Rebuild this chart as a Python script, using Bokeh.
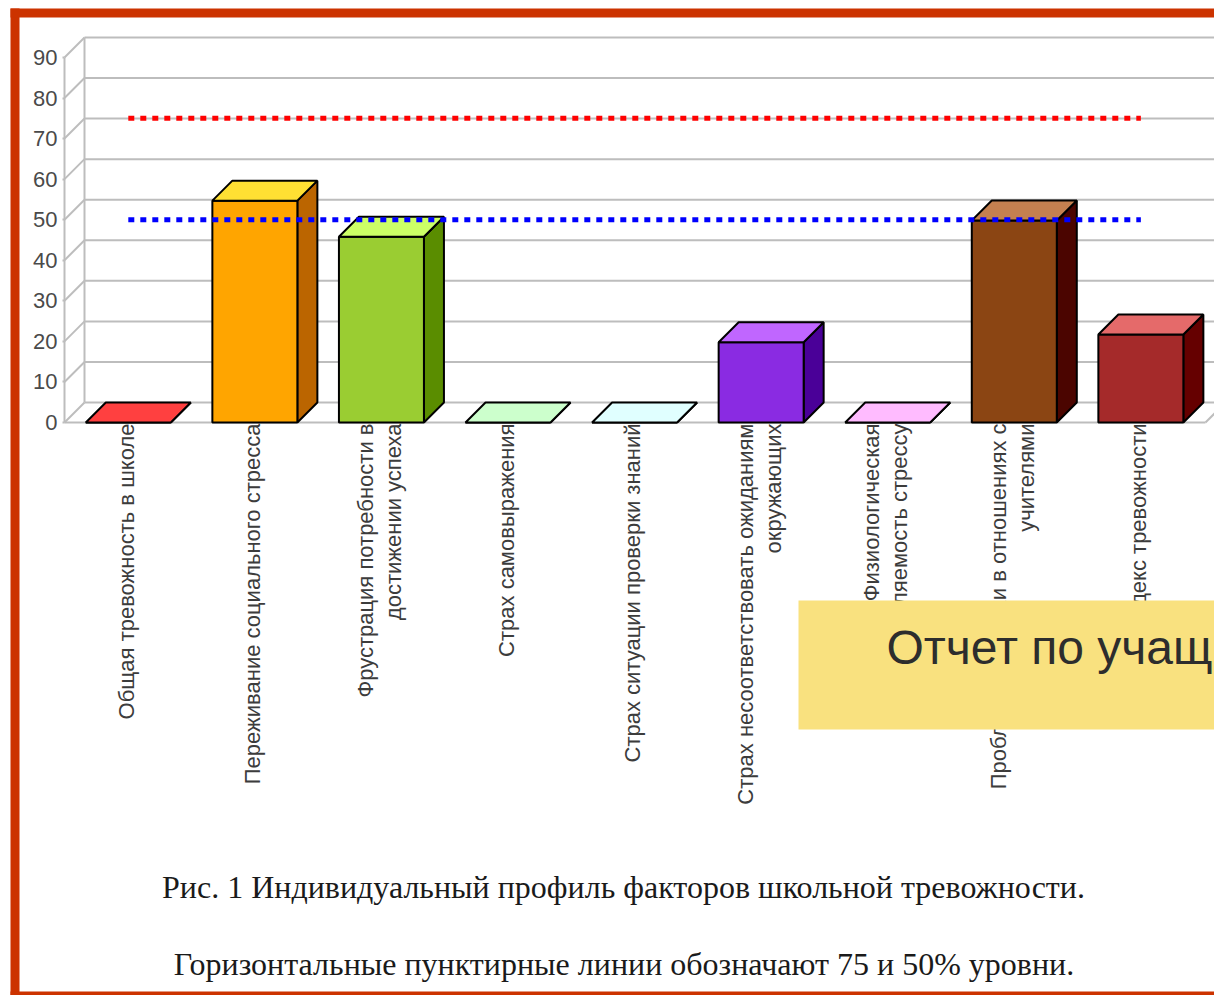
from math import pi
from bokeh.plotting import figure
from bokeh.models import Range1d, FixedTicker, BoxAnnotation, ColumnDataSource
from bokeh.core.properties import value
from bokeh.embed import file_html
from bokeh.resources import INLINE

# ---- data ----
categories = [
    "Общая тревожность в школе",
    "Переживание социального стресса",
    "Фрустрация потребности в\nдостижении успеха",
    "Страх самовыражения",
    "Страх ситуации проверки знаний",
    "Страх несоответствовать ожиданиям\nокружающих",
    "Физиологическая\nсопротивляемость стрессу",
    "Проблемы и страхи в отношениях с\nучителями",
    "Индекс тревожности",
]
values = [0, 54.7, 45.8, 0, 0, 19.8, 0, 49.8, 21.7]
level_75 = 75
level_50 = 50
y_ticks = [0, 10, 20, 30, 40, 50, 60, 70, 80, 90]
caption_1 = "Рис. 1 Индивидуальный профиль факторов школьной тревожности."
caption_2 = "Горизонтальные пунктирные линии обозначают 75 и 50% уровни."
banner_text = "Отчет по учащимся"

front_colors = ["#FF0000", "#FFA500", "#9ACD32", "#98FB98", "#E0FFFF", "#8A2BE2", "#FF99FF", "#8B4513", "#A52A2A"]
top_colors = ["#FF4040", "#FFE033", "#CCFF66", "#CCFFCC", "#E0FFFF", "#C066FF", "#FFBBFF", "#C48050", "#E56A6A"]
side_colors = ["#BF0000", "#BB6500", "#5A8D00", "#58BB58", "#A0BFBF", "#4A0098", "#BF59BF", "#4B0500", "#650000"]

# ---- layout (page pixels) ----
W, H = 1214, 995
AXIS_PX = 64
PX_PER_CAT = 126.57
CAT0_PX = 127.8
ZERO_PX = 422.0
PX_PER_VAL = 4.056
BAR_W = 85 / PX_PER_CAT
DX = 20 / PX_PER_CAT
DY = 20 / PX_PER_VAL


def xd(px):
    return (px - CAT0_PX) / PX_PER_CAT


def yd(px):
    return (ZERO_PX - px) / PX_PER_VAL


p = figure(
    width=W, height=H, output_backend="svg", toolbar_location=None,
    x_range=Range1d(xd(0), xd(W)),
    y_range=Range1d(yd(H), yd(0)),
    min_border_left=0, min_border_right=0, min_border_top=0, min_border_bottom=0,
    background_fill_color="white", border_fill_color="white",
)
p.outline_line_color = None
p.xaxis.visible = False
p.xgrid.visible = False
p.ygrid.visible = False

ax = p.yaxis[0]
ax.fixed_location = xd(AXIS_PX)
ax.ticker = FixedTicker(ticks=y_ticks)
ax.bounds = (0, 90)
ax.axis_line_color = "#BDBDBD"
ax.axis_line_width = 2
ax.major_tick_line_color = "#BDBDBD"
ax.major_tick_line_width = 2
ax.major_tick_out = 2
ax.major_tick_in = 0
ax.minor_tick_line_color = None
ax.major_label_standoff = 5
ax.major_label_text_font = "Liberation Sans"
ax.major_label_text_font_size = "22px"
ax.major_label_text_color = "#4A4A4A"

# 3D walls and grid
left = xd(AXIS_PX)
far = xd(1260)
GRID = "#BDBDBD"
p.segment([left] * len(y_ticks), y_ticks, [left + DX] * len(y_ticks), [t + DY for t in y_ticks],
          line_color=GRID, line_width=2)
p.segment([left + DX] * len(y_ticks), [t + DY for t in y_ticks], [far] * len(y_ticks), [t + DY for t in y_ticks],
          line_color=GRID, line_width=2)
p.segment([left + DX], [DY], [left + DX], [y_ticks[-1] + DY], line_color=GRID, line_width=2)
floor_end = xd(1205)
p.segment([left, floor_end], [0, 0], [floor_end, floor_end + DX], [0, DY], line_color=GRID, line_width=2)

# bars
idx = list(range(len(values)))
x0 = [i - BAR_W / 2 for i in idx]
x1 = [i + BAR_W / 2 for i in idx]
fronts = ColumnDataSource(dict(
    xs=[[a, b, b, a] for a, b in zip(x0, x1)],
    ys=[[0, 0, v, v] for v in values], c=front_colors))
sides = ColumnDataSource(dict(
    xs=[[b, b + DX, b + DX, b] for b in x1],
    ys=[[0, DY, v + DY, v] for v in values], c=side_colors))
tops = ColumnDataSource(dict(
    xs=[[a, b, b + DX, a + DX] for a, b in zip(x0, x1)],
    ys=[[v, v, v + DY, v + DY] for v in values], c=top_colors))
for src in (sides, fronts, tops):
    p.patches("xs", "ys", source=src, fill_color="c", line_color="#000000", line_width=2)

# reference levels
p.line([idx[0], idx[-1]], [level_75, level_75], line_color="#FF0000", line_width=5, line_dash="6 6")
p.line([idx[0], idx[-1]], [level_50, level_50], line_color="#0000FF", line_width=5, line_dash="6 6")

# category labels
LINE_GAP = 28 / PX_PER_CAT
LABEL_SHIFT = -2 / PX_PER_CAT
lab_x, lab_t = [], []
for i, cat in enumerate(categories):
    parts = cat.split("\n")
    for k, part in enumerate(parts):
        lab_x.append(i + LABEL_SHIFT + (k - (len(parts) - 1) / 2) * LINE_GAP)
        lab_t.append(part)
p.text(lab_x, [yd(423)] * len(lab_x), text=lab_t, angle=pi / 2, text_align="right", text_baseline="middle",
       text_font=value("Liberation Sans"), text_font_size="22px", text_color="#3C3C3C")

# captions
p.text([xd(623)], [yd(886)], text=[caption_1], text_align="center", text_baseline="middle",
       text_font=value("Liberation Serif"), text_font_size="32px", text_color="#1A1A1A")
p.text([xd(623.5)], [yd(963)], text=[caption_2], text_align="center", text_baseline="middle",
       text_font=value("Liberation Serif"), text_font_size="32px", text_color="#1A1A1A")

# banner overlay
p.quad(left=[xd(798)], right=[xd(1300)], bottom=[yd(729)], top=[yd(600)], fill_color="#F9E17F", line_color=None)
p.text([xd(886)], [yd(647)], text=[banner_text], text_align="left", text_baseline="middle",
       text_font=value("Liberation Sans"), text_font_size="48px", text_color="#2D2D2D")

# slide frame
FRAME = "#CC3300"
for l, r, t, b in [(10, 19, 8, 995), (10, W, 8, 17), (10, W, 991, 995)]:
    p.add_layout(BoxAnnotation(left=l, right=r, top=t, bottom=b,
                               left_units="canvas", right_units="canvas", top_units="canvas", bottom_units="canvas",
                               fill_color=FRAME, fill_alpha=1, line_color=None, level="overlay"))

open("out.html", "w").write(file_html(p, INLINE))
